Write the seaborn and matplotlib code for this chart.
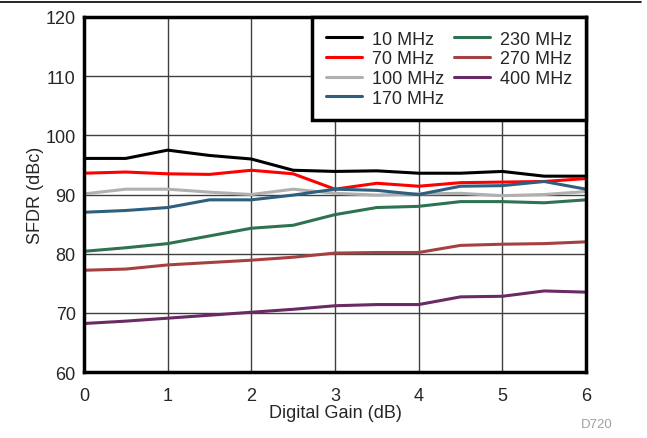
import numpy as np
import pandas as pd
import matplotlib
matplotlib.use("Agg")
import matplotlib.pyplot as plt
import seaborn as sns

# Digital gain steps (dB)
gain = [0, 0.5, 1, 1.5, 2, 2.5, 3, 3.5, 4, 4.5, 5, 5.5, 6]

# SFDR (dBc) per input frequency
sfdr_10 = [96.1, 96.1, 97.5, 96.6, 96.0, 94.1, 93.9, 94.0, 93.6, 93.6, 93.9, 93.1, 93.1]
sfdr_70 = [93.6, 93.8, 93.5, 93.4, 94.1, 93.5, 90.9, 91.9, 91.4, 92.0, 92.1, 92.2, 92.7]
sfdr_100 = [90.1, 90.9, 90.9, 90.4, 90.0, 90.9, 90.2, 89.9, 90.1, 90.2, 89.8, 90.0, 90.5]
sfdr_170 = [87.0, 87.3, 87.8, 89.1, 89.1, 89.9, 90.9, 90.7, 90.0, 91.4, 91.5, 92.2, 90.9]
sfdr_230 = [80.4, 81.0, 81.7, 83.0, 84.3, 84.8, 86.6, 87.8, 88.0, 88.8, 88.8, 88.6, 89.1]
sfdr_270 = [77.2, 77.4, 78.1, 78.5, 78.9, 79.4, 80.1, 80.2, 80.2, 81.4, 81.6, 81.7, 82.0]
sfdr_400 = [68.2, 68.6, 69.1, 69.6, 70.1, 70.6, 71.2, 71.4, 71.4, 72.7, 72.8, 73.7, 73.5]

freqs = ["10 MHz", "70 MHz", "100 MHz", "170 MHz", "230 MHz", "270 MHz", "400 MHz"]
series = [sfdr_10, sfdr_70, sfdr_100, sfdr_170, sfdr_230, sfdr_270, sfdr_400]
colors = ["#000000", "#FF0000", "#B0B0B0", "#2E5F7E", "#2E7252", "#A64142", "#6A2A64"]

df = pd.concat(
    [pd.DataFrame({"gain": gain, "sfdr": s, "freq": f}) for f, s in zip(freqs, series)],
    ignore_index=True,
)

sns.set_style("white")
plt.rcParams["font.family"] = ["Liberation Sans", "DejaVu Sans"]

fig = plt.figure(figsize=(6.47, 4.39), dpi=100)
ax = fig.add_axes([0.1298, 0.1503, 0.7759, 0.8087])

sns.lineplot(data=df, x="gain", y="sfdr", hue="freq", palette=colors,
             hue_order=freqs, linewidth=2.2, ax=ax)

ax.set_xlim(0, 6)
ax.set_ylim(60, 120)
ax.set_xticks(range(0, 7))
ax.set_yticks(range(60, 121, 10))
ax.grid(True, color="#404040", linewidth=1.0)
ax.set_axisbelow(True)
ax.tick_params(labelsize=13, length=0)
ax.tick_params(axis="x", pad=11)
ax.tick_params(axis="y", pad=6)
ax.set_xlabel("Digital Gain (dB)", fontsize=13, labelpad=0)
ax.set_ylabel("SFDR (dBc)", fontsize=13, labelpad=1)
for sp in ax.spines.values():
    sp.set_visible(True)
    sp.set_color("black")
    sp.set_linewidth(2.5)

leg = ax.legend(ncol=2, loc="upper right", fontsize=13, frameon=True,
                fancybox=False, borderaxespad=0, handlelength=2.0,
                labelspacing=0.15, columnspacing=0.55, borderpad=0.75,
                handletextpad=0.55)
leg.get_frame().set_edgecolor("black")
leg.get_frame().set_linewidth(2.5)
leg.get_frame().set_alpha(1)
for line in leg.get_lines():
    line.set_linewidth(2.2)

fig.text(0.947, 0.025, "D720", fontsize=9.5, color="#A0A0A0", ha="right")
fig.add_artist(plt.Line2D([0, 0.99], [0.993, 0.993], color="black", linewidth=1.2))

fig.savefig("out.png", dpi=100)
